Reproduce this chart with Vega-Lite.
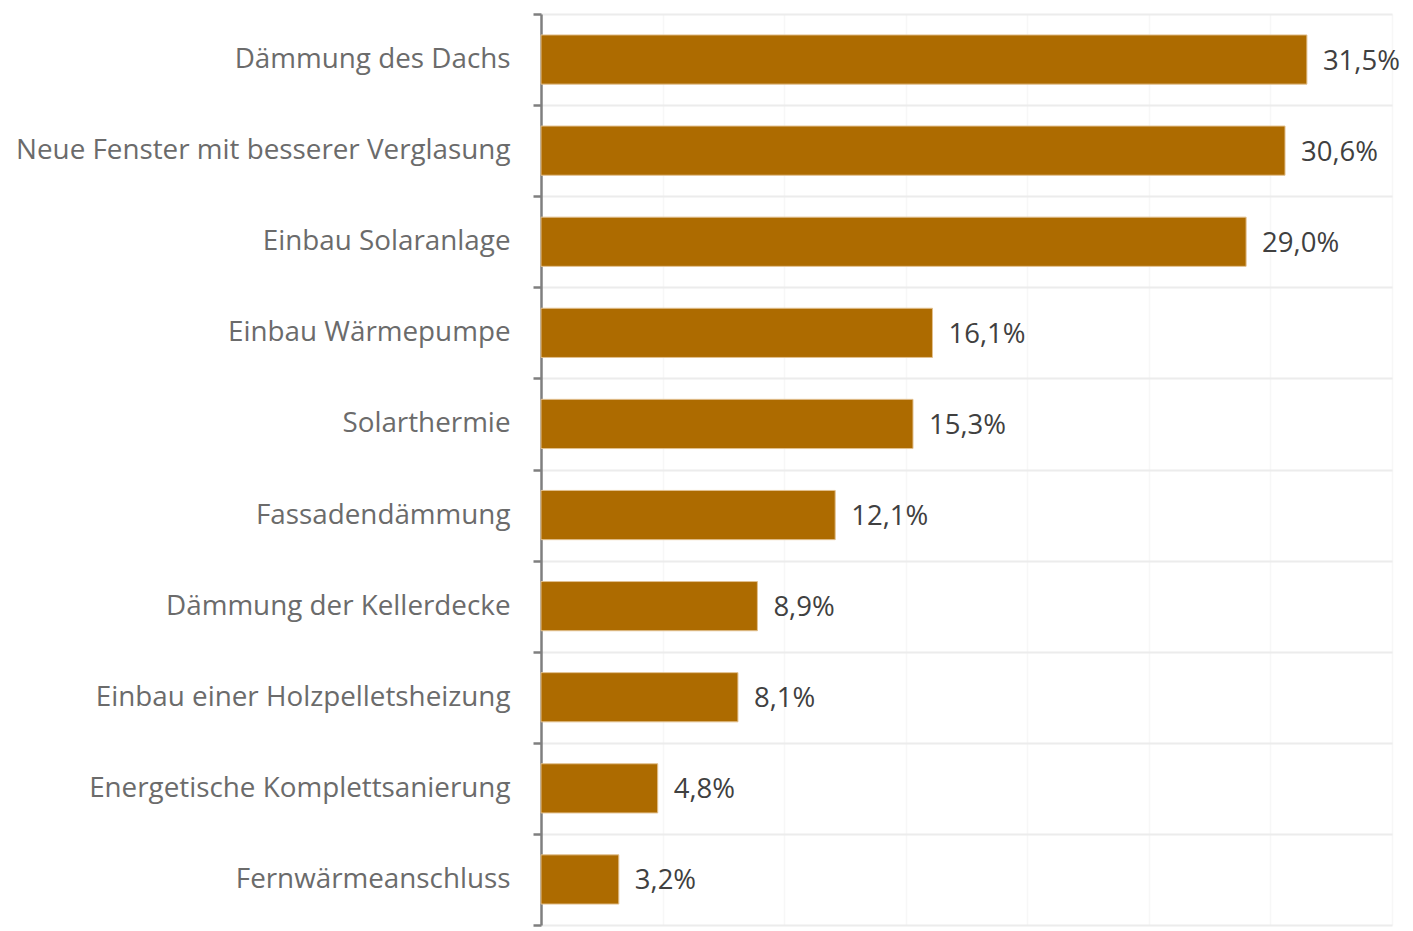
{
  "$schema": "https://vega.github.io/schema/vega-lite/v6.json",
  "width": 851,
  "height": 911,
  "autosize": "none",
  "padding": {"left": 541, "top": 14, "right": 21, "bottom": 6},
  "background": "white",
  "config": {
    "view": {"stroke": null},
    "locale": {"number": {"decimal": ",", "thousands": ".", "grouping": [3], "currency": ["", " €"]}},
    "font": "Open Sans"
  },
  "data": {
    "values": [
      {"Maßnahme": "Dämmung des Dachs", "Anteil": 0.315},
      {"Maßnahme": "Neue Fenster mit besserer Verglasung", "Anteil": 0.306},
      {"Maßnahme": "Einbau Solaranlage", "Anteil": 0.290},
      {"Maßnahme": "Einbau Wärmepumpe", "Anteil": 0.161},
      {"Maßnahme": "Solarthermie", "Anteil": 0.153},
      {"Maßnahme": "Fassadendämmung", "Anteil": 0.121},
      {"Maßnahme": "Dämmung der Kellerdecke", "Anteil": 0.089},
      {"Maßnahme": "Einbau einer Holzpelletsheizung", "Anteil": 0.081},
      {"Maßnahme": "Energetische Komplettsanierung", "Anteil": 0.048},
      {"Maßnahme": "Fernwärmeanschluss", "Anteil": 0.032}
    ]
  },
  "encoding": {
    "y": {
      "field": "Maßnahme",
      "type": "nominal",
      "sort": null,
      "title": null,
      "scale": {"paddingInner": 0, "paddingOuter": 0},
      "axis": {
        "tickBand": "extent",
        "domainColor": "#7f7f7f",
        "domainWidth": 2.5,
        "tickColor": "#7f7f7f",
        "tickWidth": 2.5,
        "tickSize": 8,
        "grid": true,
        "gridColor": "#ececec",
        "gridWidth": 2,
        "labelFont": "Open Sans",
        "labelFontSize": 27.8,
        "labelColor": "#6b6b6b",
        "labelPadding": 23,
        "labelLimit": 600
      }
    },
    "x": {
      "field": "Anteil",
      "type": "quantitative",
      "title": null,
      "scale": {"domain": [0, 0.35], "nice": false},
      "axis": {
        "values": [0, 0.05, 0.1, 0.15, 0.2, 0.25, 0.3, 0.35],
        "grid": true,
        "gridColor": "#f7f7f7",
        "gridWidth": 1.5,
        "domain": false,
        "ticks": false,
        "labels": false
      }
    }
  },
  "layer": [
    {
      "mark": {"type": "bar", "color": "#ad6b00", "stroke": "#e2c08f", "strokeWidth": 1, "height": {"band": 0.54}}
    },
    {
      "mark": {"type": "text", "align": "left", "baseline": "middle", "dx": 16, "dy": 2, "fontSize": 27.5, "color": "#404040", "font": "Open Sans"},
      "encoding": {"text": {"field": "Anteil", "type": "quantitative", "format": ".1%"}}
    }
  ]
}
